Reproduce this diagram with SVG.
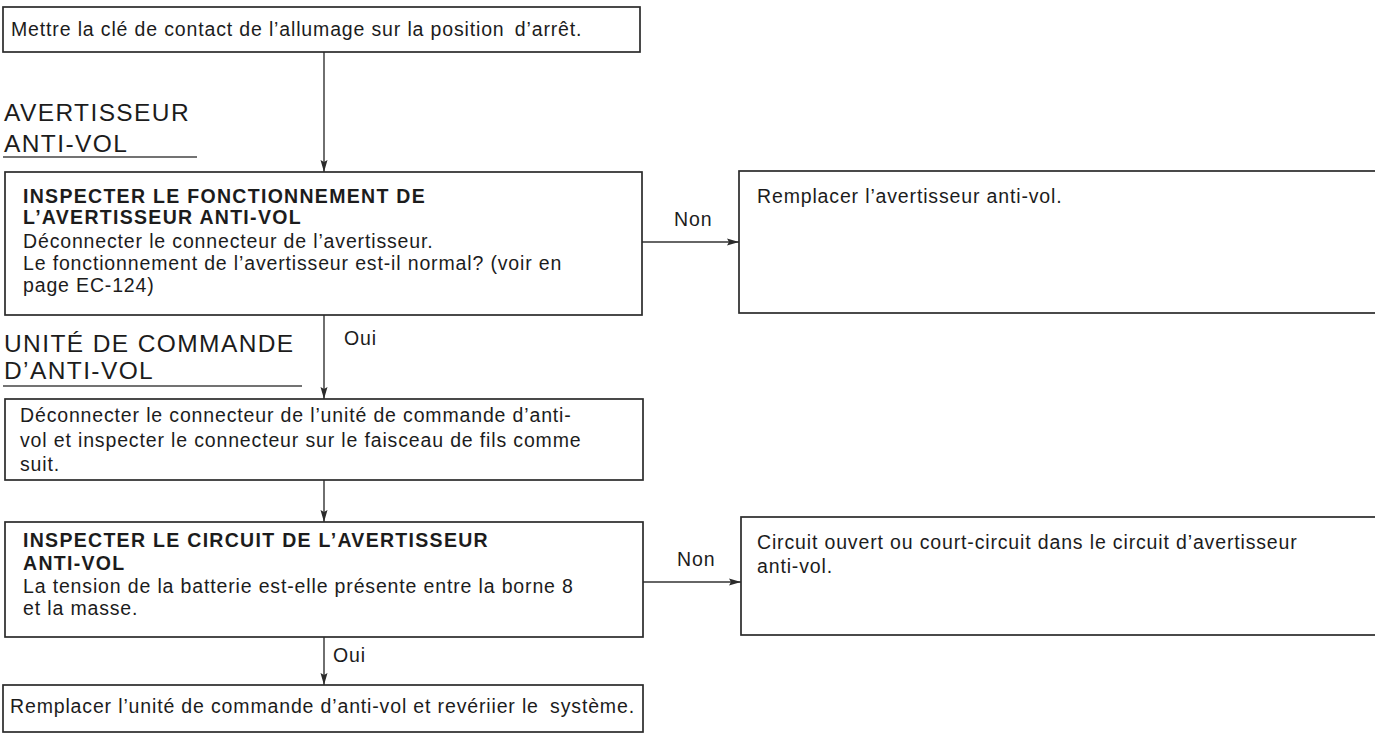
<svg xmlns="http://www.w3.org/2000/svg" width="1375" height="740" viewBox="0 0 1375 740">
<style>
.box{fill:#fff;stroke:#2b2b2b;stroke-width:1.7}
.t{font-family:"Liberation Sans",Arial,sans-serif;font-size:19.5px;letter-spacing:0.85px;fill:#1c1c1c}
.b{font-family:"Liberation Sans",Arial,sans-serif;font-size:19.5px;font-weight:bold;letter-spacing:1.3px;fill:#1c1c1c}
.h{font-family:"Liberation Sans",Arial,sans-serif;font-size:24.5px;letter-spacing:1.4px;fill:#1c1c1c}
.ln{fill:none;stroke:#333;stroke-width:1.4}
.ul{fill:none;stroke:#444;stroke-width:1.3}
</style>
<defs>
<marker id="ah" markerWidth="13" markerHeight="8" refX="12" refY="4" orient="auto" markerUnits="userSpaceOnUse">
<path d="M0,0.5 L12,4 L0,7.5 L2,4 z" fill="#2b2b2b"/>
</marker>
</defs>
<rect width="1375" height="740" fill="#fff"/>

<g id="headings">
<text class="h" x="4" y="121">AVERTISSEUR</text>
<text class="h" x="4" y="152">ANTI-VOL</text>
<line class="ul" x1="3" y1="157" x2="197" y2="157"/>
<text class="h" x="4" y="352">UNITÉ DE COMMANDE</text>
<text class="h" x="4" y="379">D’ANTI-VOL</text>
<line class="ul" x1="3" y1="386" x2="302" y2="386"/>
</g>

<g id="connectors">
<line class="ln" x1="324" y1="52" x2="324" y2="172" marker-end="url(#ah)"/>
<line class="ln" x1="642" y1="242" x2="739" y2="242" marker-end="url(#ah)"/>
<text class="t" x="674" y="226">Non</text>
<line class="ln" x1="324" y1="315" x2="324" y2="399" marker-end="url(#ah)"/>
<text class="t" x="344" y="345">Oui</text>
<line class="ln" x1="324" y1="480" x2="324" y2="522" marker-end="url(#ah)"/>
<line class="ln" x1="643" y1="582" x2="741" y2="582" marker-end="url(#ah)"/>
<text class="t" x="677" y="566">Non</text>
<line class="ln" x1="324" y1="637" x2="324" y2="685" marker-end="url(#ah)"/>
<text class="t" x="333" y="662">Oui</text>
</g>

<g id="n1">
<rect class="box" x="3" y="7" width="637" height="45"/>
<text class="t" x="11" y="36">Mettre la clé de contact de l’allumage sur la position <tspan dx="4">d’arrêt.</tspan></text>
</g>

<g id="n2">
<rect class="box" x="5" y="172" width="637" height="143"/>
<text class="b" x="23" y="203">INSPECTER LE FONCTIONNEMENT DE</text>
<text class="b" x="23" y="224">L’AVERTISSEUR ANTI-VOL</text>
<text class="t" x="23" y="248">Déconnecter le connecteur de l’avertisseur.</text>
<text class="t" x="23" y="270">Le fonctionnement de l’avertisseur est-il normal? (voir en</text>
<text class="t" x="23" y="292">page EC-124)</text>
</g>

<g id="n3">
<rect class="box" x="739" y="171" width="645" height="142"/>
<text class="t" x="757" y="203">Remplacer l’avertisseur anti-vol.</text>
</g>

<g id="n4">
<rect class="box" x="5" y="399" width="638" height="81"/>
<text class="t" x="20" y="422">Déconnecter le connecteur de l’unité de commande d’anti-</text>
<text class="t" x="20" y="447">vol et inspecter le connecteur sur le faisceau de fils comme</text>
<text class="t" x="20" y="471">suit.</text>
</g>

<g id="n5">
<rect class="box" x="5" y="522" width="638" height="115"/>
<text class="b" x="23" y="547">INSPECTER LE CIRCUIT DE L’AVERTISSEUR</text>
<text class="b" x="23" y="570">ANTI-VOL</text>
<text class="t" x="23" y="593">La tension de la batterie est-elle présente entre la borne 8</text>
<text class="t" x="23" y="615">et la masse.</text>
</g>

<g id="n6">
<rect class="box" x="741" y="517" width="645" height="118"/>
<text class="t" x="757" y="549">Circuit ouvert ou court-circuit dans le circuit d’avertisseur</text>
<text class="t" x="757" y="573">anti-vol.</text>
</g>

<g id="n7">
<rect class="box" x="3" y="685" width="640" height="47"/>
<text class="t" x="10" y="713">Remplacer l’unité de commande d’anti-vol et revériier le <tspan dx="5">système.</tspan></text>
</g>
</svg>
